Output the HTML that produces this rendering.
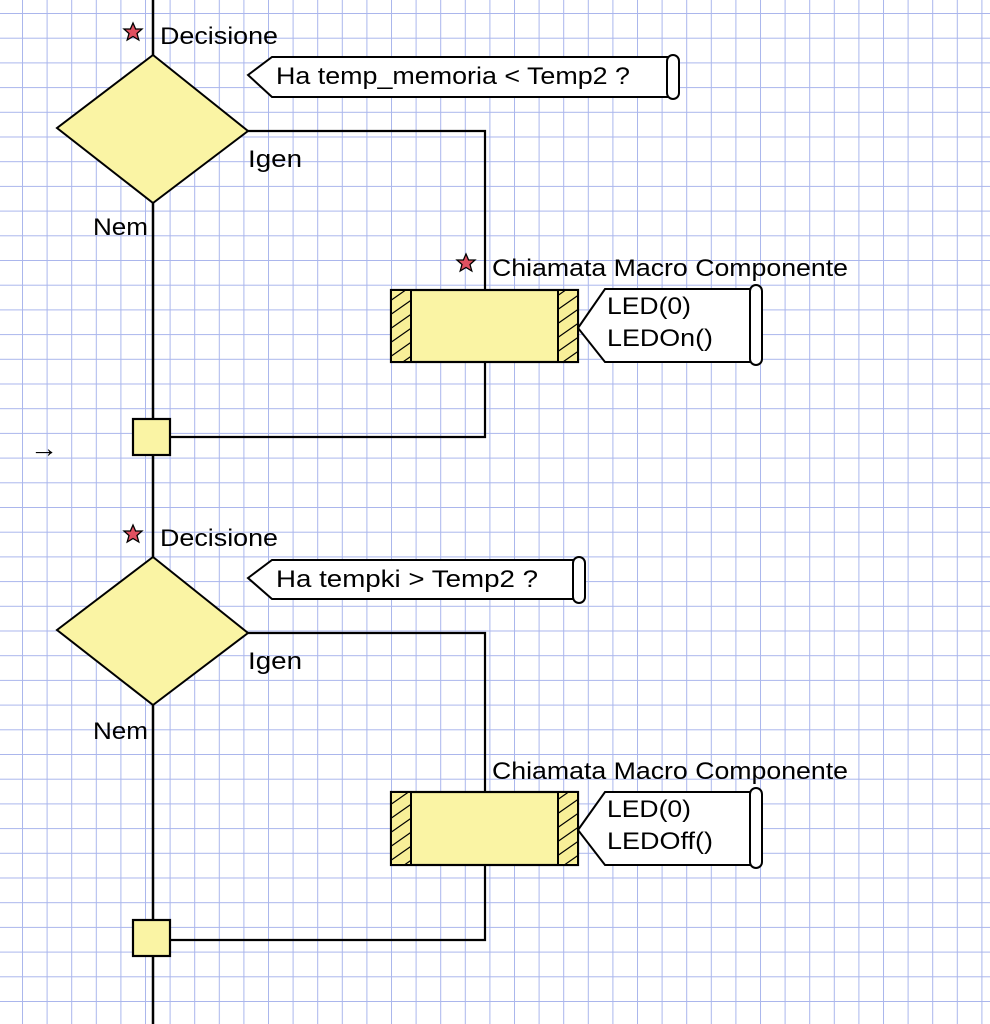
<!DOCTYPE html>
<html><head><meta charset="utf-8"><style>
html,body{margin:0;padding:0;background:#fff;}
svg{display:block;}
text{font-family:"Liberation Sans",sans-serif;fill:#000;}
</style></head><body>
<svg width="990" height="1024" viewBox="0 0 990 1024" xmlns="http://www.w3.org/2000/svg">
<defs>
<pattern id="g" x="22" y="13" width="24.6" height="24.7" patternUnits="userSpaceOnUse">
<path d="M0 0H24.6M0 0V24.7" stroke="#aab6ec" stroke-width="2" fill="none"/>
</pattern>
<pattern id="h" width="20" height="14" patternUnits="userSpaceOnUse">
<rect width="20" height="14" fill="#f8ef98"/>
<path d="M0 14L20 0M-5 3.5L5 -3.5M15 17.5L25 10.5" stroke="#000" stroke-width="1.2"/>
</pattern>
<g id="star"><path d="M0,-9 L2.6,-3 9,-3 4,1.5 5.8,8 0,4.5 -5.8,8 -4,1.5 -9,-3 -2.6,-3Z" fill="#e05060" stroke="#000" stroke-width="1.3"/></g>
</defs>
<rect width="990" height="1024" fill="#fff"/>
<rect width="990" height="1024" fill="url(#g)"/>

<line x1="153" y1="0" x2="153" y2="1024" stroke="#000" stroke-width="2.5"/>

<!-- block 1 -->
<polyline points="248,131 485,131 485,290" fill="none" stroke="#000" stroke-width="2.2"/>
<polyline points="485,362 485,437 170,437" fill="none" stroke="#000" stroke-width="2.2"/>
<polygon points="153,55 248,131 153,203 57,128" fill="#faf4a4" stroke="#000" stroke-width="2"/>
<rect x="391" y="290" width="187" height="72" fill="#faf4a4" stroke="#000" stroke-width="2.2"/>
<rect x="391" y="290" width="20" height="72" fill="url(#h)" stroke="#000" stroke-width="2"/>
<rect x="558" y="290" width="20" height="72" fill="url(#h)" stroke="#000" stroke-width="2"/>
<rect x="133" y="419" width="37" height="36" fill="#faf4a4" stroke="#000" stroke-width="2.2"/>
<polygon points="248,75 272,57 670,57 670,97 272,97" fill="#fff" stroke="#000" stroke-width="2"/>
<rect x="667" y="55" width="12" height="44" rx="6" fill="#fff" stroke="#000" stroke-width="2"/>
<text x="276" y="84" font-size="24" textLength="354" lengthAdjust="spacingAndGlyphs">Ha temp_memoria &lt; Temp2 ?</text>
<polygon points="578,328 605,289 752,289 752,362 605,362" fill="#fff" stroke="#000" stroke-width="2"/>
<rect x="750" y="285" width="12" height="80" rx="6" fill="#fff" stroke="#000" stroke-width="2"/>
<text x="607" y="314" font-size="24" textLength="84" lengthAdjust="spacingAndGlyphs">LED(0)</text>
<text x="607" y="346" font-size="24" textLength="106" lengthAdjust="spacingAndGlyphs">LEDOn()</text>
<use href="#star" x="133" y="32"/>
<text x="160" y="44" font-size="24" textLength="118" lengthAdjust="spacingAndGlyphs">Decisione</text>
<text x="248" y="167" font-size="24" textLength="54" lengthAdjust="spacingAndGlyphs">Igen</text>
<text x="93" y="235" font-size="24" textLength="55" lengthAdjust="spacingAndGlyphs">Nem</text>
<use href="#star" x="466" y="263"/>
<text x="492" y="276" font-size="24" textLength="356" lengthAdjust="spacingAndGlyphs">Chiamata Macro Componente</text>
<text x="30" y="457" font-size="26" textLength="28" lengthAdjust="spacingAndGlyphs">→</text>

<!-- block 2 -->
<polyline points="248,633 485,633 485,792" fill="none" stroke="#000" stroke-width="2.2"/>
<polyline points="485,865 485,940 170,940" fill="none" stroke="#000" stroke-width="2.2"/>
<polygon points="153,557 248,633 153,705 57,630" fill="#faf4a4" stroke="#000" stroke-width="2"/>
<rect x="391" y="792" width="187" height="73" fill="#faf4a4" stroke="#000" stroke-width="2.2"/>
<rect x="391" y="792" width="20" height="73" fill="url(#h)" stroke="#000" stroke-width="2"/>
<rect x="558" y="792" width="20" height="73" fill="url(#h)" stroke="#000" stroke-width="2"/>
<rect x="133" y="920" width="37" height="36" fill="#faf4a4" stroke="#000" stroke-width="2.2"/>
<polygon points="248,578 272,560 576,560 576,599 272,599" fill="#fff" stroke="#000" stroke-width="2"/>
<rect x="573" y="557" width="12" height="46" rx="6" fill="#fff" stroke="#000" stroke-width="2"/>
<text x="276" y="587" font-size="24" textLength="262" lengthAdjust="spacingAndGlyphs">Ha tempki &gt; Temp2 ?</text>
<polygon points="578,830 605,792 752,792 752,865 605,865" fill="#fff" stroke="#000" stroke-width="2"/>
<rect x="750" y="788" width="12" height="80" rx="6" fill="#fff" stroke="#000" stroke-width="2"/>
<text x="607" y="817" font-size="24" textLength="84" lengthAdjust="spacingAndGlyphs">LED(0)</text>
<text x="607" y="849" font-size="24" textLength="106" lengthAdjust="spacingAndGlyphs">LEDOff()</text>
<use href="#star" x="133" y="534"/>
<text x="160" y="546" font-size="24" textLength="118" lengthAdjust="spacingAndGlyphs">Decisione</text>
<text x="248" y="669" font-size="24" textLength="54" lengthAdjust="spacingAndGlyphs">Igen</text>
<text x="93" y="739" font-size="24" textLength="55" lengthAdjust="spacingAndGlyphs">Nem</text>
<text x="492" y="779" font-size="24" textLength="356" lengthAdjust="spacingAndGlyphs">Chiamata Macro Componente</text>
</svg>
</body></html>
